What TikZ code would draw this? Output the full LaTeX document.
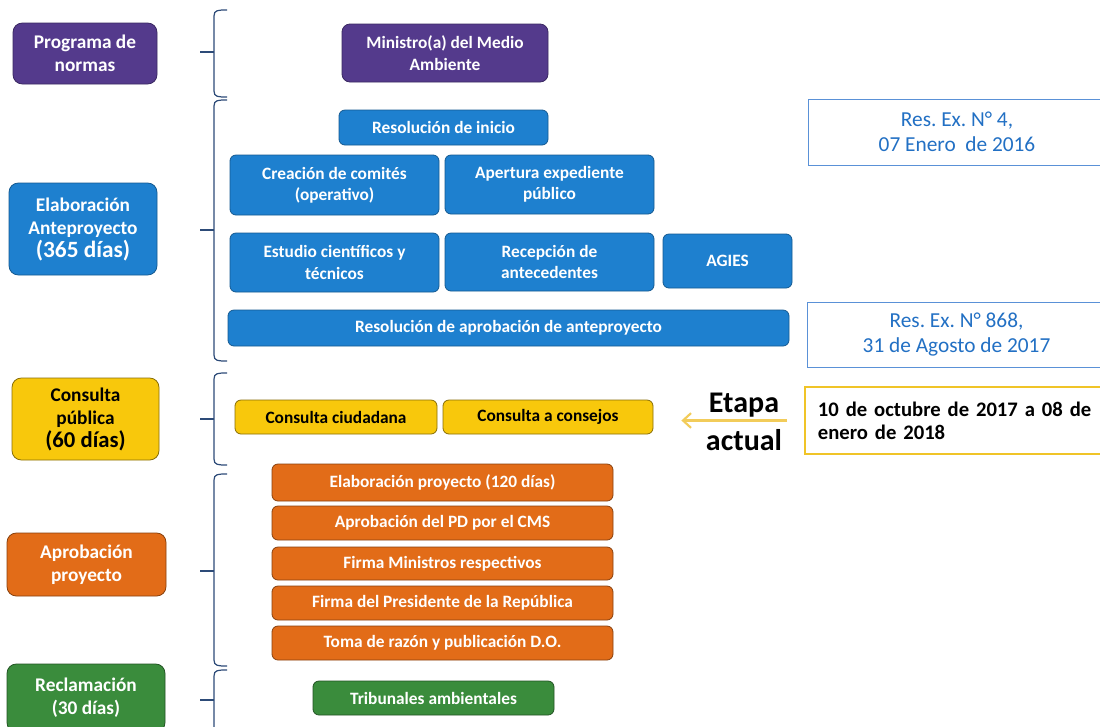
\documentclass[tikz,border=0pt]{standalone}
\usepackage{fontspec}
\setmainfont{Carlito}
\usetikzlibrary{arrows.meta}
\definecolor{cpurple}{RGB}{84,58,140}
\definecolor{cblue}{RGB}{30,128,207}
\definecolor{cyellow}{RGB}{248,200,12}
\definecolor{corange}{RGB}{226,108,24}
\definecolor{cgreen}{RGB}{58,140,60}
\definecolor{cbrace}{RGB}{45,75,120}
\definecolor{cresblue}{RGB}{34,112,196}
\definecolor{cresline}{RGB}{90,145,215}
\definecolor{cgold}{RGB}{240,196,40}
\definecolor{carrow}{RGB}{242,204,90}
\newcommand\B[7]{\node[#6, minimum width={(#4-#2)*0.75pt}, minimum height={(#5-#3)*0.75pt}] (#1) at ({(#2+#4)/2},{(#3+#5)/2}) {#7};}
\newcommand\Brc[3]{%
  \draw[bracest] (227,#1) .. controls (218,#1) and (214,#1) .. (214,{#1+6}) -- (214,{#2-6}) .. controls (214,#2) and (218,#2) .. (227,#2);
  \draw[bracest, line width=1.6pt] (214,#3) -- (200,#3);}
\frenchspacing
\begin{document}
\frenchspacing
\begin{tikzpicture}[x=0.75pt,y=-0.75pt,
  cbox/.style={rounded corners=4.5pt, line width=0.6pt, inner sep=0pt, align=center, text=white, font=\fontsize{13}{16}\selectfont\bfseries},
  bigbox/.style={cbox, rounded corners=7pt, font=\fontsize{14.5}{17.25}\selectfont\bfseries},
  purplebox/.style={fill=cpurple, draw=cpurple!70!black},
  bluebox/.style={fill=cblue, draw=cblue!70!black},
  yellowbox/.style={fill=cyellow, draw=cyellow!55!black, text=black},
  orangebox/.style={fill=corange, draw=corange!60!black},
  greenbox/.style={fill=cgreen, draw=cgreen!60!black},
  resbox/.style={draw=cresline, line width=0.6pt, inner sep=0pt, align=center, text=cresblue, font=\fontsize{16}{18.5}\selectfont},
  datebox/.style={draw=cgold, line width=1.4pt, inner ysep=0pt, align=left, font=\fontsize{15.5}{17.5}\selectfont\bfseries},
  bracest/.style={draw=cbrace, line width=0.9pt},
  arrowst/.style={draw=carrow, line width=1.6pt, -{Straight Barb[length=6pt,width=11pt]}}
]
\useasboundingbox (0,0) rectangle (1100,726);
\clip (0,0) rectangle (1100,726);
\fill[white] (0,0) rectangle (1100,726);

% left column
\B{prog}{13}{23}{157}{84}{bigbox,purplebox}{Programa de\\normas}
\B{elab}{9}{183}{157}{275}{bigbox,bluebox}{Elaboración\\Anteproyecto\\{\fontsize{17.5}{20}\selectfont(365 días)}}
\B{cpub}{12}{378}{159}{460}{bigbox,yellowbox}{Consulta\\pública\\{\fontsize{17}{20}\selectfont(60 días)}}
\B{aprob}{7}{533}{166}{596}{bigbox,orangebox}{Aprobación\\proyecto}
\B{recl}{7}{664}{165}{732}{bigbox,greenbox}{Reclamación\\(30 días)}

% braces
\Brc{10}{97}{52}
\Brc{100}{361}{230}
\Brc{373}{465}{419}
\Brc{474}{666}{571}
\Brc{670}{760}{700}

% right column
\B{min}{342}{24}{548}{82}{cbox,purplebox,rounded corners=6pt}{Ministro(a) del Medio\\Ambiente}
\B{resini}{339}{110}{548}{145}{cbox,bluebox}{Resolución de inicio}
\B{comites}{230}{155}{439}{215}{cbox,bluebox}{Creación de comités\\(operativo)}
\B{apert}{445}{155}{654}{214}{cbox,bluebox}{Apertura expediente\\público}
\B{estudio}{230}{233}{439}{292}{cbox,bluebox}{Estudio científicos y\\técnicos}
\B{recep}{445}{233}{654}{291}{cbox,bluebox}{Recepción de\\antecedentes}
\B{agies}{663}{234}{792}{288}{cbox,bluebox}{AGIES}
\B{resapr}{228}{310}{789}{346}{cbox,bluebox}{Resolución de aprobación de anteproyecto}
\B{res4}{808}{99}{1106}{165}{resbox}{Res. Ex. N° 4,\\07 Enero\ \ de 2016}
\B{res868}{807}{302}{1106}{367}{resbox}{Res. Ex. N° 868,\\31 de Agosto de 2017}

\B{ciud}{235}{400}{437}{434}{cbox,yellowbox}{Consulta ciudadana}
\B{consejos}{443}{400}{653}{434}{cbox,yellowbox}{Consulta a consejos}

\node[datebox, minimum height={67*0.75pt}, text width={310*0.75pt}, inner xsep={13*0.75pt}, anchor=west] (date) at (804,420.5) {10 de octubre de 2017 a 08 de\\enero de 2018};
\node[font=\fontsize{22.5}{28.5}\selectfont\bfseries, align=center, inner sep=0pt] (etapa) at (744,421.5) {Etapa\\actual};
\coordinate (arrend) at ([xshift=21pt]consejos.east);
\draw[arrowst] ([xshift=-12.75pt]date.west) -- (arrend |- date.west);

\B{o1}{272}{464}{613}{501}{cbox,orangebox}{Elaboración proyecto (120 días)}
\B{o2}{272}{506}{613}{540}{cbox,orangebox}{Aprobación del PD por el CMS}
\B{o3}{272}{547}{613}{580}{cbox,orangebox}{Firma Ministros respectivos}
\B{o4}{272}{586}{613}{620}{cbox,orangebox}{Firma del Presidente de la República}
\B{o5}{272}{626}{613}{660}{cbox,orangebox}{Toma de razón y publicación D.O.}
\B{trib}{313}{681}{554}{715}{cbox,greenbox}{Tribunales ambientales}
\end{tikzpicture}
\end{document}
